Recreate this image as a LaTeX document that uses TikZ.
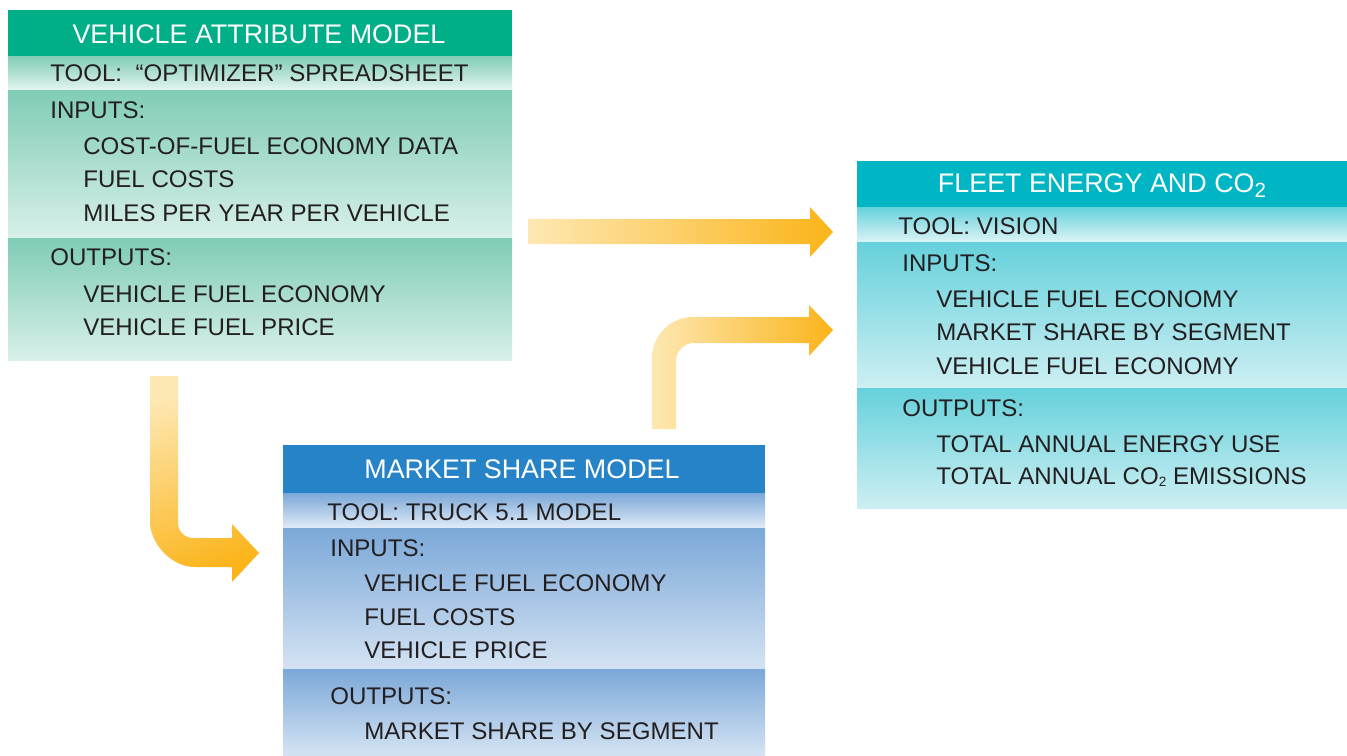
\documentclass[tikz,border=0pt]{standalone}
\usepackage{fontspec}
\setmainfont{Liberation Sans}

\definecolor{txtdark}{HTML}{231F20}
\definecolor{vamhead}{HTML}{00AE87}
\definecolor{vamtop}{HTML}{80CCB6}
\definecolor{vambot}{HTML}{D8F0E9}
\definecolor{fechead}{HTML}{00B6C4}
\definecolor{fectop}{HTML}{66D1DB}
\definecolor{fecbot}{HTML}{CDEFF3}
\definecolor{msmhead}{HTML}{2783C8}
\definecolor{msmtop}{HTML}{7BA8D8}
\definecolor{msmbot}{HTML}{D4E3F3}
\definecolor{arrlight}{HTML}{FDE8B3}
\definecolor{arrdark}{HTML}{FBB41A}

\begin{document}
\begin{tikzpicture}[x=0.02cm,y=-0.02cm,
  headtext/.style={text=white,inner sep=0pt,font=\fontsize{15.3}{18}\selectfont},
  entry/.style={anchor=west,inner sep=0pt,text=txtdark,font=\fontsize{13.7}{16}\selectfont}]

\useasboundingbox (0,0) rectangle (1347,755);

%vehicle attribute model
\path[fill=vamhead] (8,10) rectangle (512,56);
\shade[top color=vamtop,bottom color=vambot!70!white] (8,56) rectangle (512,90);
\shade[top color=vamtop,bottom color=vambot] (8,90) rectangle (512,238);
\shade[top color=vamtop,bottom color=vambot] (8,238) rectangle (512,360);
\node[headtext] (vam) at (259,34.5) {VEHICLE ATTRIBUTE MODEL};
\node[entry] (vamtool) at (50,73.5) {TOOL:\ \ “OPTIMIZER” SPREADSHEET};
\node[entry] (vamin) at (50,110) {INPUTS:};
\node[entry] (vamin1) at (83,146) {COST-OF-FUEL ECONOMY DATA};
\node[entry] (vamin2) at (83,179) {FUEL COSTS};
\node[entry] (vamin3) at (83,213) {MILES PER YEAR PER VEHICLE};
\node[entry] (vamout) at (50,257) {OUTPUTS:};
\node[entry] (vamout1) at (83,294) {VEHICLE FUEL ECONOMY};
\node[entry] (vamout2) at (83,327) {VEHICLE FUEL PRICE};

%fleet energy and co2
\path[fill=fechead] (857,161) rectangle (1347,207);
\shade[top color=fectop,bottom color=fecbot!70!white] (857,207) rectangle (1347,242);
\shade[top color=fectop,bottom color=fecbot] (857,242) rectangle (1347,388);
\shade[top color=fectop,bottom color=fecbot] (857,388) rectangle (1347,508);
\node[headtext] (fec) at (1102,185.5) {FLEET ENERGY AND CO\raisebox{-0.35ex}{\fontsize{11.7}{12}\selectfont 2}};
\node[entry] (fectool) at (898,226) {TOOL: VISION};
\node[entry] (fecin) at (902,263) {INPUTS:};
\node[entry] (fecin1) at (936,299) {VEHICLE FUEL ECONOMY};
\node[entry] (fecin2) at (936,332) {MARKET SHARE BY SEGMENT};
\node[entry] (fecin3) at (936,366) {VEHICLE FUEL ECONOMY};
\node[entry] (fecout) at (902,408) {OUTPUTS:};
\node[entry] (fecout1) at (936,444) {TOTAL ANNUAL ENERGY USE};
\node[entry] (fecout2) at (936,477) {TOTAL ANNUAL CO\raisebox{-0.1ex}{\fontsize{7.7}{8}\selectfont 2} EMISSIONS};

%market share model
\path[fill=msmhead] (283,445) rectangle (765,493);
\shade[top color=msmtop,bottom color=msmbot!70!white] (283,493) rectangle (765,528);
\shade[top color=msmtop,bottom color=msmbot] (283,528) rectangle (765,669);
\shade[top color=msmtop,bottom color=msmbot] (283,669) rectangle (765,755);
\node[headtext] (msm) at (522,469.5) {MARKET SHARE MODEL};
\node[entry] (msmtool) at (327,512) {TOOL: TRUCK 5.1 MODEL};
\node[entry] (msmin) at (330,548) {INPUTS:};
\node[entry] (msmin1) at (364,583) {VEHICLE FUEL ECONOMY};
\node[entry] (msmin2) at (364,617) {FUEL COSTS};
\node[entry] (msmin3) at (364,650) {VEHICLE PRICE};
\node[entry] (msmout) at (330,696.5) {OUTPUTS:};
\node[entry] (msmout1) at (364,731) {MARKET SHARE BY SEGMENT};

%arrow vam -> fec
\shade[left color=arrlight,right color=arrdark]
  (528,219) -- (810,219) -- (810,207) -- (833,232) -- (810,257) -- (810,244) -- (528,244) -- cycle;

%arrow msm -> fec
\shade[left color=arrlight,right color=arrdark]
  (652,429) -- (652,358) .. controls (652,335.4) and (670.4,317) .. (693,317)
  -- (809,317) -- (809,305) -- (833,330) -- (809,356) -- (809,343) -- (693,343)
  .. controls (683.6,343) and (676,352.4) .. (676,360) -- (676,429) -- cycle;

%arrow vam -> msm
\shade[top color=arrlight,bottom color=arrdark,shading angle=20]
  (150,376) -- (178,376) -- (178,523) .. controls (178,531.3) and (184.7,538) .. (193,538)
  -- (232,538) -- (232,524) -- (259,553) -- (232,582) -- (232,567) -- (195,567)
  .. controls (170.15,567) and (150,542.15) .. (150,522) -- cycle;

\end{tikzpicture}
\end{document}
